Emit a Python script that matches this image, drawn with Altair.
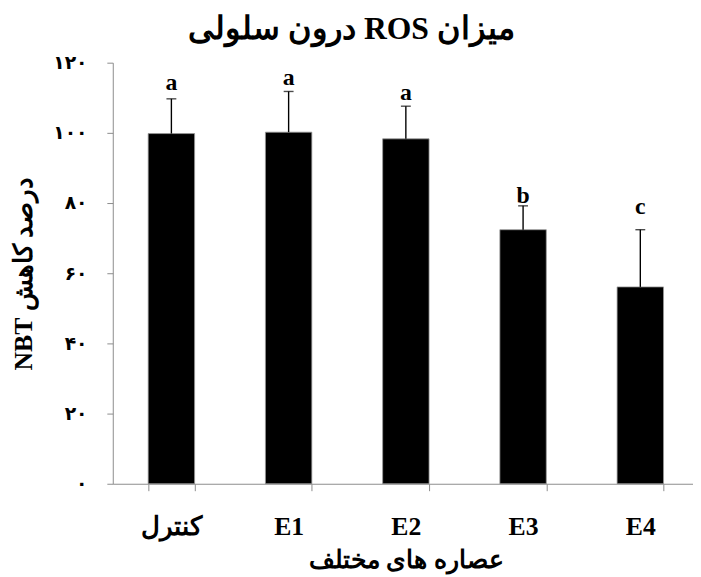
import altair as alt
import pandas as pd

groups = ["کنترل", "E1", "E2", "E3", "E4"]
means = [99.8, 100.2, 98.3, 72.4, 56.1]
upper = [109.7, 111.8, 107.6, 79.2, 72.4]
letters = ["a", "a", "a", "b", "c"]
letter_pos = [112.1, 113.5, 109.3, 80.0, 76.9]
y_ticks = [0, 20, 40, 60, 80, 100, 120]
y_tick_labels = ["۰", "۲۰", "۴۰", "۶۰", "۸۰", "۱۰۰", "۱۲۰"]

title_text = "میزان ROS درون سلولی"
y_title = "درصد کاهش NBT"
x_title = "عصاره های مختلف"

RLE, PDF = "\u202B", "\u202C"

df = pd.DataFrame({
    "group": groups,
    "mean": means,
    "upper": upper,
    "letter": letters,
    "letter_pos": letter_pos,
})

label_expr = ""
for v, lab in zip(y_ticks, y_tick_labels):
    label_expr += f"datum.value == {v} ? '{lab}' : "
label_expr += "datum.label"

serif = "Liberation Serif"
axis_col = "#8c8c8c"

x = alt.X(
    "group:N",
    sort=groups,
    scale=alt.Scale(range=[0, 593], paddingInner=0.604, paddingOuter=0.302),
    axis=alt.Axis(
        title=RLE + x_title + PDF,
        labelAngle=0,
        tickBand="extent",
        tickSize=7,
        labelPadding=23,
        labelFontSize=26,
        labelFont=serif,
        labelFontWeight="bold",
        labelColor="black",
        titleFontSize=25,
        titleFont=serif,
        titleFontWeight="bold",
        titlePadding=9,
        titleColor="black",
        domainColor=axis_col,
        tickColor=axis_col,
    ),
)

y_scale = alt.Scale(domain=[0, 120], nice=False, zero=True)

bars = alt.Chart(df).mark_bar(color="black", stroke="#999999", strokeWidth=0.8).encode(
    x=x,
    y=alt.Y(
        "mean:Q",
        scale=y_scale,
        axis=alt.Axis(
            title=RLE + y_title + PDF,
            values=y_ticks,
            labelExpr=label_expr,
            tickSize=6,
            labelPadding=20,
            labelFontSize=19,
            labelFont="DejaVu Sans",
            labelFontWeight="bold",
            labelColor="black",
            titleFontSize=26,
            titleFont=serif,
            titleFontWeight="bold",
            titlePadding=16,
            titleColor="black",
            domainColor=axis_col,
            tickColor=axis_col,
        ),
    ),
)

err = alt.Chart(df).mark_rule(color="black", strokeWidth=1.4).encode(
    x=alt.X("group:N", sort=groups),
    y=alt.Y("mean:Q"),
    y2="upper:Q",
)

caps = alt.Chart(df).mark_tick(color="black", size=10, thickness=1.4).encode(
    x=alt.X("group:N", sort=groups),
    y=alt.Y("upper:Q"),
)

labels = alt.Chart(df).mark_text(
    baseline="alphabetic", fontSize=24, fontWeight="bold", font=serif, color="black"
).encode(
    x=alt.X("group:N", sort=groups),
    y=alt.Y("letter_pos:Q"),
    text="letter:N",
)

chart = (
    alt.layer(bars, err, caps, labels)
    .properties(
        width=587,
        height=426,
        title=alt.TitleParams(
            RLE + title_text + PDF,
            fontSize=32,
            font=serif,
            fontWeight="bold",
            anchor="middle",
            dx=-52,
            offset=8,
            color="black",
        ),
        autosize=alt.AutoSizeParams(type="none"),
        padding={"left": 106, "top": 52, "right": 0, "bottom": 91},
    )
    .configure_view(stroke=None)
    .configure_axis(grid=False)
)

chart.save("out.html", embed_options={"renderer": "svg", "actions": False})
